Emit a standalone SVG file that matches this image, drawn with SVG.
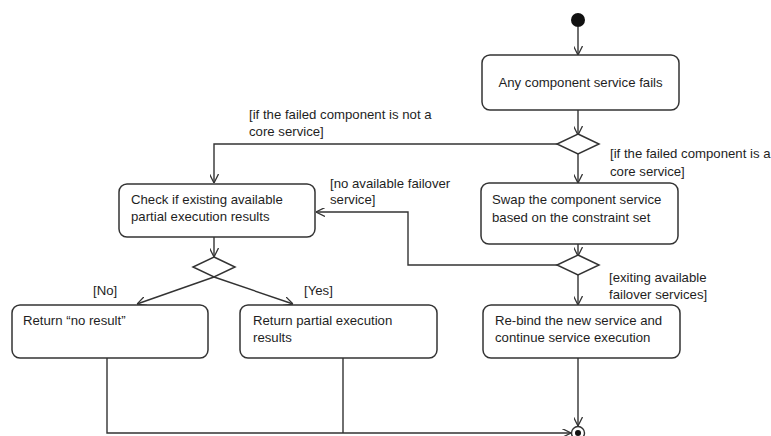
<svg xmlns="http://www.w3.org/2000/svg" width="771" height="436" viewBox="0 0 771 436">
  <style>
    .box { fill: #fff; stroke: #333; stroke-width: 1.5; }
    .dec { fill: #fff; stroke: #333; stroke-width: 1.5; }
    .edge { fill: none; stroke: #333; stroke-width: 1.4; }
    .arr { fill: none; stroke: #333; stroke-width: 1.4; marker-end: url(#open); }
    text { font-family: "Liberation Sans", Arial, sans-serif; font-size: 13.2px; fill: #1e1e1e; }
  </style>
  <defs>
    <marker id="open" viewBox="0 0 10 10" refX="10" refY="5" markerWidth="9" markerHeight="9" markerUnits="userSpaceOnUse" orient="auto">
      <path d="M0,0 L10,5 L0,10" fill="none" stroke="#333" stroke-width="1.4"/>
    </marker>
  </defs>

  <rect width="771" height="436" fill="#fff"/>

  <!-- connectors -->
  <g id="edges">
    <line class="arr" x1="578" y1="27" x2="578" y2="55"/>
    <line class="arr" x1="578" y1="110" x2="578" y2="135"/>
    <path class="arr" d="M557,144 H214 V183"/>
    <line class="arr" x1="578" y1="154" x2="578" y2="183"/>
    <line class="arr" x1="578" y1="244" x2="578" y2="256"/>
    <path class="arr" d="M557,265 H408 V212 H316"/>
    <line class="arr" x1="578" y1="275" x2="578" y2="305"/>
    <line class="arr" x1="214" y1="237" x2="214" y2="257"/>
    <line class="arr" x1="214" y1="277" x2="137" y2="304"/>
    <line class="arr" x1="214" y1="277" x2="293" y2="304"/>
    <path class="arr" d="M107,358 V433 H571"/>
    <line class="edge" x1="343" y1="358" x2="343" y2="433"/>
    <line class="arr" x1="578" y1="358" x2="578" y2="426"/>
  </g>

  <!-- guard labels -->
  <g id="guards">
    <text x="249" y="119">[if the failed component is not a</text>
    <text x="249" y="136">core service]</text>
    <text x="610" y="158">[if the failed component is a</text>
    <text x="610" y="176">core service]</text>
    <text x="330" y="188">[no available failover</text>
    <text x="330" y="204">service]</text>
    <text x="609" y="282">[exiting available</text>
    <text x="609" y="299">failover services]</text>
    <text x="93" y="295">[No]</text>
    <text x="304" y="295">[Yes]</text>
  </g>

  <g id="start">
    <circle cx="578" cy="20" r="7" fill="#111"/>
  </g>

  <g id="fail">
    <rect class="box" x="482" y="55" width="197" height="55" rx="8"/>
    <text x="580.5" y="87" text-anchor="middle">Any component service fails</text>
  </g>

  <g id="decision-core">
    <polygon class="dec" points="578,134 599,144 578,154 557,144"/>
  </g>

  <g id="check">
    <rect class="box" x="119" y="184" width="196" height="53" rx="8"/>
    <text x="131" y="204">Check if existing available</text>
    <text x="131" y="221">partial execution results</text>
  </g>

  <g id="swap">
    <rect class="box" x="481" y="183" width="197" height="61" rx="8"/>
    <text x="492" y="204">Swap the component service</text>
    <text x="492" y="222">based on the constraint set</text>
  </g>

  <g id="decision-partial">
    <polygon class="dec" points="214,257 235,267 214,277 193,267"/>
  </g>

  <g id="decision-failover">
    <polygon class="dec" points="578,255 599,265 578,275 557,265"/>
  </g>

  <g id="no-result">
    <rect class="box" x="12" y="305" width="196" height="53" rx="8"/>
    <text x="23" y="325">Return “no result”</text>
  </g>

  <g id="partial">
    <rect class="box" x="240" y="305" width="197" height="53" rx="8"/>
    <text x="253" y="325">Return partial execution</text>
    <text x="253" y="342">results</text>
  </g>

  <g id="rebind">
    <rect class="box" x="483" y="305" width="197" height="53" rx="8"/>
    <text x="495" y="325">Re-bind the new service and</text>
    <text x="495" y="342">continue service execution</text>
  </g>

  <g id="end">
    <circle cx="578" cy="433" r="6.5" fill="#fff" stroke="#333" stroke-width="1.4"/>
    <circle cx="578" cy="433" r="3" fill="#111"/>
  </g>
</svg>
